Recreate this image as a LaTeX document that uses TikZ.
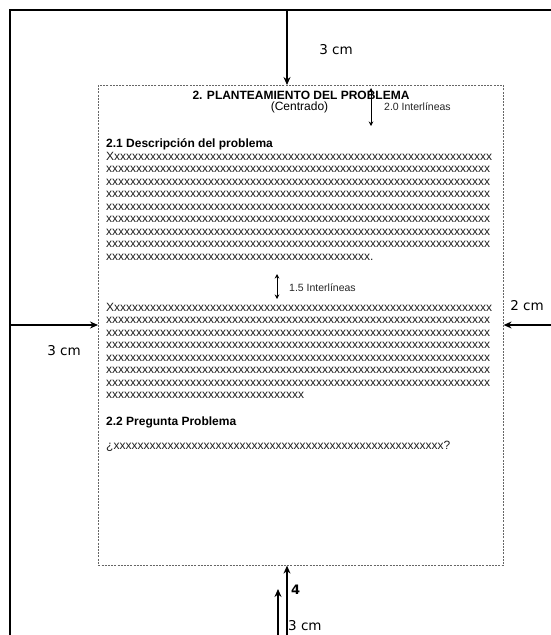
\documentclass[tikz,border=0pt]{standalone}
\usepackage{fontspec}
\setmainfont{Liberation Sans}
\newfontfamily\lblfont{DejaVu Sans}
\usetikzlibrary{arrows.meta}
\ExplSyntaxOn
\NewExpandableDocumentCommand\xrep{m}{\prg_replicate:nn{#1}{x}}
\ExplSyntaxOff
\begin{document}
\begin{tikzpicture}[x=1pt,y=-1pt,
  frame/.style={line width=2.2pt},
  bigarrow/.style={line width=2.2pt,-{Stealth[length=8pt,width=7pt]}},
  thinarrow/.style={line width=0.8pt,{Stealth[length=4.5pt,width=4.5pt]}-{Stealth[length=4.5pt,width=4.5pt]}},
  body/.style={inner sep=0pt,anchor=base west,text=black!88,font=\fontsize{12}{12.5}\selectfont},
  head/.style={inner sep=0pt,anchor=base west,font=\fontsize{12}{14}\selectfont\bfseries},
  small/.style={inner sep=0pt,anchor=base west,text=black!85,font=\fontsize{10.5}{12}\selectfont},
  lbl/.style={inner sep=0pt,font=\lblfont\fontsize{13.5}{15}\selectfont},
  pagebox/.style={draw=black!60,dash pattern=on 2pt off 1.2pt,line width=0.6pt,inner sep=0pt},
]
\useasboundingbox (0,0) rectangle (550,635);
\fill[white] (0,0) rectangle (550,635);
% outer frame
\coordinate (tl) at (10,10);
\coordinate (tr) at (552,10);
\coordinate (bl) at (10,637);
\draw[frame] (tr) -- (tl) -- (bl);
% dashed page
\node[pagebox,minimum width=405pt,minimum height=480pt,anchor=north west] (page) at (98,85) {};
% margin arrows
\coordinate (topA) at (287,10);
\draw[bigarrow] (topA) -- (topA |- page.north);
\coordinate (leftA) at (10,325);
\draw[bigarrow] (leftA) -- (leftA -| page.west);
\coordinate (rightA) at (552,325);
\draw[bigarrow] (rightA) -- (rightA -| page.east);
\coordinate (botA) at (287,637);
\draw[bigarrow] (botA) -- (botA |- page.south);
\coordinate (botB) at (278,637);
\coordinate (botBt) at (278,589);
\draw[bigarrow] (botB) -- (botBt);
% margin labels
\node[lbl] (ltop) at (336,50) {3 cm};
\node[lbl] (lleft) at (64,351) {3 cm};
\node[lbl] (lright) at (527,306) {2 cm};
\node[lbl,anchor=west,font=\lblfont\bfseries\fontsize{13}{15}\selectfont] (lfour) at (291,590) {4};
\node[lbl,anchor=west] (lbot) at (288,626) {3 cm};
% heading
\node[inner sep=0pt,anchor=base,font=\fontsize{12}{14}\selectfont\bfseries] (title) at (301,99) {2. PLANTEAMIENTO DEL PROBLEMA};
\node[inner sep=0pt,anchor=base,font=\fontsize{12}{14}\selectfont] (centr) at (299.5,110) {(Centrado)};
\coordinate (i2a) at (371,88);
\coordinate (i2b) at (371,126);
\draw[thinarrow] (i2a) -- (i2b);
\node[small] (i2lbl) at (384,110) {2.0 Interlíneas};
% section 2.1
\node[head] (s21) at (106,147) {2.1 Descripción del problema};
\node[body] (p1-0) at (106,160) {X\xrep{63}};
\foreach \i in {1,...,7} {
  \node[body] (p1-\i) at (106,160+12.5*\i) {\xrep{64}};
}
\node[body] (p1-8) at (106,260) {\xrep{44}.};
\coordinate (i15a) at (277,274);
\coordinate (i15b) at (277,299);
\draw[thinarrow] (i15a) -- (i15b);
\node[small] (i15lbl) at (289,291) {1.5 Interlíneas};
\node[body] (p2-0) at (106,311) {X\xrep{63}};
\foreach \i in {1,...,6} {
  \node[body] (p2-\i) at (106,311+12.5*\i) {\xrep{64}};
}
\node[body] (p2-7) at (106,398.5) {\xrep{33}};
% section 2.2
\node[head] (s22) at (106,425) {2.2 Pregunta Problema};
\node[body] (q) at (106,449) {¿\xrep{55}?};
\end{tikzpicture}
\end{document}
